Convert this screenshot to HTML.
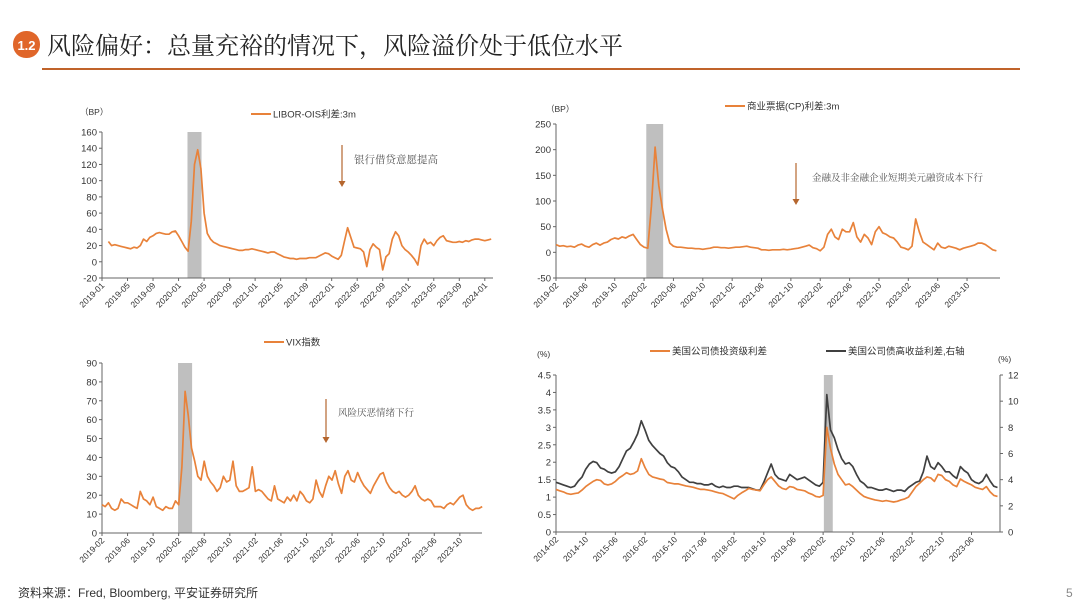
<!DOCTYPE html>
<html><head><meta charset="utf-8"><style>
body{margin:0;background:#fff;width:1080px;height:608px;overflow:hidden;font-family:"Liberation Sans","Noto Sans CJK SC",sans-serif;}
svg text{font-family:"Liberation Sans","Noto Sans CJK SC",sans-serif;}
svg text.serif{font-family:"Liberation Serif","Noto Serif CJK SC",serif;}
</style></head><body>
<svg id="s" width="1080" height="608" xmlns="http://www.w3.org/2000/svg">
<g>
<rect x="13" y="31" width="27" height="27" rx="13" fill="#e0662a"/>
<text x="26.5" y="50" font-size="13" font-weight="bold" fill="#fff" text-anchor="middle">1.2</text>
<text class="serif" x="47" y="54" font-size="24" fill="#222">风险偏好：总量充裕的情况下，风险溢价处于低位水平</text>
<rect x="42" y="68" width="978" height="2" fill="#c0632a"/>
</g>
<text x="18" y="597" font-size="12" fill="#333">资料来源：Fred, Bloomberg, 平安证券研究所</text>
<text x="1066" y="597" font-size="12" fill="#888">5</text>
</svg>
<script>
// Chart 1: LIBOR-OIS (semi-monthly from 2019-02)
const liborValues=[25,20,21,20,19,18,17,16,18,17,20,28,25,30,32,35,36,35,34,34,37,38,
32,25,18,13,50,120,138,115,60,35,28,24,22,20,19,18,17,16,15,14,14,15,15,16,
15,14,13,12,11,12,12,10,8,6,5,4,4,3,4,4,4,5,5,5,7,9,11,10,
7,5,3,8,25,42,30,18,17,16,12,-6,15,22,18,15,-10,6,10,28,37,32,20,15,
12,8,3,-4,20,28,22,24,20,26,30,32,26,25,24,24,25,24,26,25,27,28,28,27,
26,27,28];
const liborTicks=["2019-01","2019-05","2019-09","2020-01","2020-05","2020-09","2021-01","2021-05","2021-09","2022-01","2022-05","2022-09","2023-01","2023-05","2023-09","2024-01"];
const liborYTicks=[-20,0,20,40,60,80,100,120,140,160];
// Chart 2: CP spread (semi-monthly from 2019-02)
const cpValues=[15,12,13,11,12,10,14,16,12,10,15,18,14,18,20,25,28,26,30,28,32,35,
25,15,10,8,90,205,130,85,45,18,12,10,10,9,8,8,7,7,6,7,8,10,10,9,
9,8,9,10,10,11,12,10,9,8,5,5,4,5,5,5,6,5,6,7,8,10,12,14,
9,7,3,10,35,45,30,25,45,40,40,58,30,20,35,28,15,40,50,38,35,30,28,20,
10,8,5,12,65,40,20,15,10,5,18,10,8,12,10,8,5,8,10,12,14,18,18,15,
10,5,3];
const cpTicks=["2019-02","2019-06","2019-10","2020-02","2020-06","2020-10","2021-02","2021-06","2021-10","2022-02","2022-06","2022-10","2023-02","2023-06","2023-10"];
const cpYTicks=[-50,0,50,100,150,200,250];
// Chart 3: VIX (semi-monthly from 2019-02)
const vixValues=[15,14,16,13,12,13,18,16,16,15,14,13,22,18,17,15,19,14,13,12,14,13,
13,17,15,35,75,62,45,38,30,28,38,30,27,25,22,24,30,27,28,38,25,22,22,23,
24,35,22,23,22,20,18,17,25,18,17,16,19,17,20,17,22,20,17,16,18,28,22,19,
25,30,28,33,26,21,30,33,28,27,32,28,25,23,21,25,28,31,32,27,24,22,21,22,
20,19,20,22,25,20,18,17,18,17,14,14,14,13,15,16,15,17,19,20,15,13,12,13,
13,14];
const vixTicks=["2019-02","2019-06","2019-10","2020-02","2020-06","2020-10","2021-02","2021-06","2021-10","2022-02","2022-06","2022-10","2023-02","2023-06","2023-10"];
const vixYTicks=[0,10,20,30,40,50,60,70,80,90];
// Chart 4: corporate spreads (monthly from 2014-02)
const igValues=[1.22,1.18,1.15,1.10,1.08,1.10,1.12,1.20,1.30,1.38,1.45,
1.50,1.48,1.38,1.35,1.38,1.45,1.55,1.62,1.70,1.65,1.68,1.75,
2.10,1.85,1.65,1.58,1.55,1.52,1.50,1.42,1.40,1.38,1.38,1.35,
1.32,1.30,1.28,1.25,1.22,1.22,1.20,1.18,1.15,1.12,1.10,1.05,
1.00,0.95,1.05,1.12,1.18,1.25,1.22,1.20,1.18,1.35,1.50,1.58,
1.45,1.32,1.25,1.22,1.30,1.28,1.22,1.20,1.18,1.12,1.08,1.02,
1.00,1.05,3.00,2.40,1.95,1.65,1.50,1.35,1.38,1.30,1.20,1.10,
1.02,0.98,0.95,0.92,0.90,0.88,0.90,0.88,0.86,0.88,0.92,0.95,
1.00,1.15,1.30,1.40,1.50,1.58,1.55,1.45,1.65,1.62,1.50,1.45,
1.35,1.30,1.52,1.45,1.40,1.35,1.28,1.25,1.22,1.30,1.15,1.05,
1.02];
const hyValues=[3.8,3.7,3.6,3.5,3.4,3.5,3.9,4.2,4.8,5.2,5.4,
5.3,4.9,4.8,4.6,4.5,4.6,5.0,5.6,6.2,6.4,6.9,7.5,
8.5,7.8,7.0,6.6,6.3,6.0,5.8,5.3,5.0,4.9,4.6,4.2,
4.0,3.8,3.8,3.7,3.7,3.6,3.6,3.7,3.5,3.4,3.5,3.4,
3.4,3.5,3.5,3.4,3.4,3.4,3.3,3.2,3.2,3.8,4.5,5.2,
4.4,4.1,4.0,3.9,4.4,4.2,4.0,4.1,4.2,4.0,3.8,3.6,
3.5,3.8,10.5,7.8,7.2,6.3,5.6,5.2,5.3,5.0,4.4,3.9,
3.7,3.4,3.4,3.3,3.2,3.2,3.3,3.2,3.1,3.2,3.2,3.1,
3.4,3.6,3.8,3.9,4.6,5.8,5.0,4.8,5.3,5.0,4.6,4.6,
4.3,4.1,5.0,4.7,4.5,4.0,3.8,3.7,3.9,4.4,3.9,3.5,
3.4];
const corpTicks=["2014-02","2014-10","2015-06","2016-02","2016-10","2017-06","2018-02","2018-10","2019-06","2020-02","2020-10","2021-06","2022-02","2022-10","2023-06"];
const corpLeftTicks=[0,0.5,1,1.5,2,2.5,3,3.5,4,4.5];
const corpRightTicks=[0,2,4,6,8,10,12];

const NS="http://www.w3.org/2000/svg";
const svg=document.getElementById('s');
function mk(tag,attrs,parent){const e=document.createElementNS(NS,tag);for(const k in attrs)e.setAttribute(k,attrs[k]);(parent||svg).appendChild(e);return e;}
const OR="#e8823a",DK="#404040";

function chart(name,c){
  const g=mk('g',{});
  
  
  const y=v=>c.y0+(c.ymax-v)/(c.ymax-c.ymin)*(c.y1-c.y0);
  const x=m=>c.x0+m*c.pxm;
  const sh=mk('rect',{x:x(c.shadeA),y:c.y0,width:x(c.shadeB)-x(c.shadeA),height:c.y1-c.y0,fill:"#bfbfbf"},g);
  
  
  mk('line',{x1:c.x0,y1:c.y0,x2:c.x0,y2:c.y1,stroke:"#666","stroke-width":1},g);
  c.yticks.forEach(t=>{
    mk('line',{x1:c.x0-3,y1:y(t),x2:c.x0,y2:y(t),stroke:"#666"},g);
    const tx=mk('text',{x:c.x0-5,y:y(t)+3.5,"font-size":9.5,fill:"#333","text-anchor":"end"},g);
    tx.textContent=t;
    
    
  });
  const zy=y(c.xAxisAt);
  mk('line',{x1:c.x0,y1:zy,x2:c.xEnd,y2:zy,stroke:"#666"},g);
  c.xticks.forEach((t,i)=>{
    const xx=x(c.tick0+i*c.tickStep);
    mk('line',{x1:xx,y1:zy,x2:xx,y2:zy+3,stroke:"#666"},g);
    const tx=mk('text',{x:xx+3,y:c.y1+8,"font-size":8.5,fill:"#333","text-anchor":"end",transform:`rotate(-45 ${xx+3} ${c.y1+8})`},g);
    tx.textContent=t;
    
    
  });
  c.series.forEach(s=>{
    const yy=s.right?(v=>c.y0+(c.rmax-v)/c.rmax*(c.y1-c.y0)):y;
    const d=s.vals.map((v,i)=>(i?'L':'M')+x(s.m0+i*s.step).toFixed(1)+','+yy(v).toFixed(1)).join('');
    const p=mk('path',{d:d,fill:"none",stroke:s.color,"stroke-width":1.7,"stroke-linejoin":"round"},g);
    
    
  });
  return {g,x,y};
}

chart('libor-ois-chart',{x0:102,xEnd:493,y0:132,y1:278,ymin:-20,ymax:160,xAxisAt:-20,pxm:6.38,yticks:liborYTicks,xticks:liborTicks,tick0:0,tickStep:4,shadeA:13.4,shadeB:15.6,
  series:[{name:'libor-ois-line',vals:liborValues,m0:1,step:0.5,color:OR}]});
chart('cp-spread-chart',{x0:556,xEnd:1000,y0:124,y1:278,ymin:-50,ymax:250,xAxisAt:-50,pxm:7.34,yticks:cpYTicks,xticks:cpTicks,tick0:0,tickStep:4,shadeA:12.3,shadeB:14.6,
  series:[{name:'cp-spread-line',vals:cpValues,m0:0,step:0.5,color:OR}]});
chart('vix-chart',{x0:102,xEnd:482,y0:363,y1:533,ymin:0,ymax:90,xAxisAt:0,pxm:6.39,yticks:vixYTicks,xticks:vixTicks,tick0:0,tickStep:4,shadeA:11.9,shadeB:14.1,
  series:[{name:'vix-line',vals:vixValues,m0:0,step:0.5,color:OR}]});
const c4=chart('corporate-spread-chart',{x0:556,xEnd:1000,y0:375,y1:532,ymin:0,ymax:4.5,xAxisAt:0,pxm:3.71,rmax:12,yticks:corpLeftTicks,xticks:corpTicks,tick0:0,tickStep:8,shadeA:72.2,shadeB:74.6,
  series:[{name:'high-yield-spread-line',vals:hyValues,m0:0,step:1,color:DK,right:true},{name:'investment-grade-spread-line',vals:igValues,m0:0,step:1,color:OR}]});
mk('line',{x1:1000,y1:375,x2:1000,y2:532,stroke:"#666"},c4.g);
corpRightTicks.forEach(t=>{
  const yy=375+(12-t)/12*157;
  mk('line',{x1:1000,y1:yy,x2:1003,y2:yy,stroke:"#666"},c4.g);
  const tx=mk('text',{x:1008,y:yy+3.5,"font-size":9.5,fill:"#333"},c4.g);
  tx.textContent=t;
  
  
});

function txt(name,x,y,s,size,fill,anchor){
  const t=mk('text',{x:x,y:y,"font-size":size,fill:fill||"#333","text-anchor":anchor||"start"});
  t.textContent=s;
  
  
  return t;
}
function legend(name,x,y,color,label){
  const l=mk('line',{x1:x,y1:y,x2:x+20,y2:y,stroke:color,"stroke-width":2});
  
  
  txt(name,x+22,y+3.5,label,9.5);
}
function arrow(name,x,y1,y2){
  const l=mk('line',{x1:x,y1:y1,x2:x,y2:y2-5,stroke:"#b5662e","stroke-width":1.2});
  
  
  const p=mk('path',{d:`M${x-3.5},${y2-6}L${x+3.5},${y2-6}L${x},${y2}Z`,fill:"#b5662e"});
  
  
}
txt('y-unit-libor',80,115,'（BP）',8.5);
legend('legend-libor-ois',251,114,OR,'LIBOR-OIS利差:3m');
arrow('arrow-libor',342,145,187);
txt('annotation-libor',354,163,'银行借贷意愿提高',10.5,'#555').setAttribute('class','serif');

txt('y-unit-cp',546,112,'（BP）',8.5);
legend('legend-cp',725,106,OR,'商业票据(CP)利差:3m');
arrow('arrow-cp',796,163,205);
txt('annotation-cp',812,181,'金融及非金融企业短期美元融资成本下行',9.5,'#555').setAttribute('class','serif');

legend('legend-vix',264,342,OR,'VIX指数');
arrow('arrow-vix',326,399,443);
txt('annotation-vix',338,416,'风险厌恶情绪下行',9.5,'#555').setAttribute('class','serif');

txt('y-unit-corp-left',537,357,'(%)',8.5);
txt('y-unit-corp-right',998,362,'(%)',8.5);
legend('legend-ig',650,351,OR,'美国公司债投资级利差');
legend('legend-hy',826,351,DK,'美国公司债高收益利差,右轴');
</script>
</body></html>
